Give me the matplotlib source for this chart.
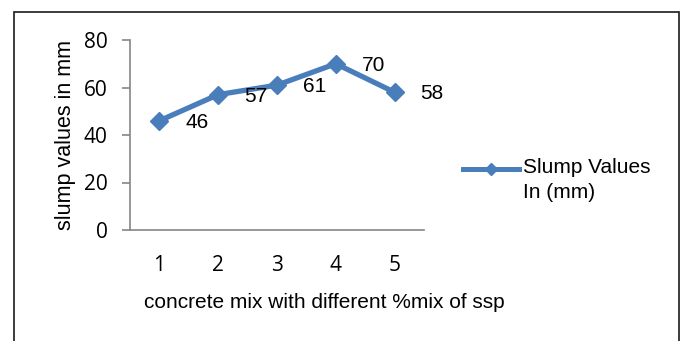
import numpy as np
import matplotlib
matplotlib.use("Agg")
import matplotlib.pyplot as plt
from matplotlib.lines import Line2D
from matplotlib.patches import Rectangle
from matplotlib.legend_handler import HandlerLine2D

# data
mixes = [1, 2, 3, 4, 5]
slump = [46, 57, 61, 70, 58]
y_ticks = [0, 20, 40, 60, 80]
series_name = "Slump Values\nIn (mm)"

blue = "#4A7EBB"
grey = "#868686"

plt.rcParams['font.family'] = ['Liberation Sans', 'DejaVu Sans']


# legend handle sits on the first line of the two-line label
class RaisedLine(HandlerLine2D):
    def __init__(self, shift, **kw):
        super().__init__(**kw)
        self.shift = shift

    def create_artists(self, *args, **kwargs):
        arts = super().create_artists(*args, **kwargs)
        for a in arts:
            a.set_ydata(np.asarray(a.get_ydata()) + self.shift)
        return arts


fig = plt.figure(figsize=(6.83, 3.41), dpi=100)
ax = fig.add_axes([130 / 683, 1 - 230 / 341, 294 / 683, 190 / 341])

ax.plot(mixes, slump, color=blue, lw=3.8, marker='D', ms=9.5,
        markerfacecolor=blue, markeredgecolor=blue)

# data labels to the right of each point
for x, y in zip(mixes, slump):
    ax.annotate(str(y), (x, y), xytext=(27, -1), textcoords='offset points',
                ha='center', va='center', fontsize=15)

ax.set_xlim(0.5, 5.5)
ax.set_ylim(0, 80)
ax.set_xticks(mixes)
ax.set_yticks(y_ticks)
tick_font = {'family': 'Open Sans', 'size': 15}
ax.set_xticklabels([str(m) for m in mixes], fontdict=tick_font)
ax.set_yticklabels([str(t) for t in y_ticks], fontdict=tick_font)

for side in ['top', 'right']:
    ax.spines[side].set_visible(False)
for side in ['left', 'bottom']:
    ax.spines[side].set_color(grey)
    ax.spines[side].set_linewidth(1.2)
ax.tick_params(axis='y', length=6, width=1.2, color=grey, pad=10)
ax.tick_params(axis='x', length=0, pad=18)

ax.set_ylabel("slump values in mm", fontsize=15.5, labelpad=6)
ax.text(324 / 683, 1 - 302 / 341, "concrete mix with different %mix of ssp",
        transform=fig.transFigure, ha='center', va='center', fontsize=15)

handle = Line2D([], [], color=blue, lw=3.6, marker='D', ms=6,
                markerfacecolor=blue, markeredgecolor=blue)
leg = fig.legend([handle], [series_name], loc='center left',
                 bbox_to_anchor=(463 / 683, 1 - 180 / 341), frameon=False,
                 fontsize=15, handlelength=2.7, handletextpad=0.2,
                 borderaxespad=0, borderpad=0,
                 handler_map={handle: RaisedLine(shift=8)})
for t in leg.get_texts():
    t.set_linespacing(1.35)

# outer chart border (bottom edge falls outside the crop)
fig.patches.append(Rectangle((14 / 683, -0.1), 665 / 683, 1.1 - 12 / 341,
                             transform=fig.transFigure, fill=False,
                             edgecolor='#1a1a1a', lw=1.2))

fig.savefig("out.png", dpi=100)
